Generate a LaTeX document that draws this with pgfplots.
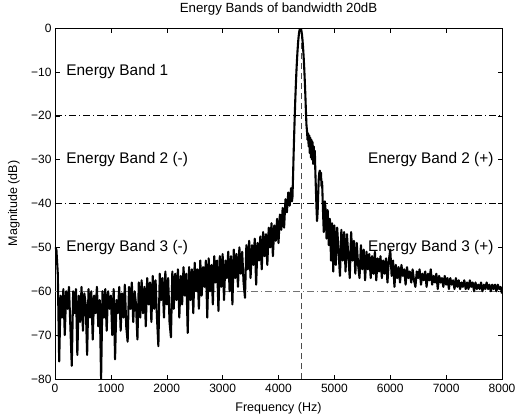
\documentclass[border=0pt]{standalone}
\usepackage{pgfplots}
\pgfplotsset{compat=1.18}
\usepackage{fontspec}
\setmainfont{Liberation Sans}
\begin{document}
\begin{tikzpicture}
\begin{axis}[
  at={(0,0)}, anchor=south west,
  scale only axis, width=447pt, height=351pt,
  xmin=0, xmax=8000, ymin=-80, ymax=0,
  xtick={0,1000,2000,3000,4000,5000,6000,7000,8000},
  xticklabels={0,1000,2000,3000,4000,5000,6000,7000,8000},
  ytick={-80,-70,-60,-50,-40,-30,-20,-10,0},
  yticklabels={−80,−70,−60,−50,−40,−30,−20,−10,0},
  tick align=inside, major tick length=4.5pt,
  tick style={black, line width=0.5pt},
  axis line style={black, line width=0.6pt},
  ticklabel style={font=\fontsize{12}{13}\selectfont},
  xticklabel style={yshift=-2pt},
  title={Energy Bands of bandwidth 20dB},
  title style={font=\fontsize{13.3}{15}\selectfont, at={(axis description cs:0.5,1.0285)}, anchor=base},
  xlabel={Frequency (Hz)},
  xlabel style={font=\fontsize{12.5}{14}\selectfont, at={(axis description cs:0.5,-0.0826)}, anchor=center},
  ylabel={Magnitude (dB)},
  ylabel style={font=\fontsize{12.5}{14}\selectfont, at={(axis description cs:-0.0917,0.5)}, anchor=center},
  clip=true,
]
% band limits
\addplot[black, line width=0.7pt, dash pattern=on 7pt off 3pt on 1pt off 3pt] coordinates {(0,-20) (8000,-20)};
\addplot[black, line width=0.7pt, dash pattern=on 7pt off 3pt on 1pt off 3pt] coordinates {(0,-40) (8000,-40)};
\addplot[black!55, line width=0.7pt, dash pattern=on 7pt off 3pt on 1pt off 3pt] coordinates {(0,-60) (8000,-60)};
\addplot[black!70, line width=0.6pt, dash pattern=on 6pt off 4pt] coordinates {(4400,-80) (4400,0)};
% spectrum
\addplot[black, line width=2.1pt, line join=round] coordinates {
(0,-50) (25,-50.5) (50,-56) (75,-76) (100,-61) (125,-66) (150,-59.5) (175,-70)
(200,-60) (225,-64) (250,-59) (275,-68) (300,-77) (325,-60) (350,-65) (375,-59.5)
(400,-74.5) (425,-61) (450,-67) (475,-59) (500,-69) (525,-60.5) (550,-63) (575,-74.5)
(600,-59.5) (625,-66) (650,-60) (675,-71) (700,-61) (725,-65) (750,-59) (775,-68)
(800,-62) (825,-80) (850,-60) (875,-66) (900,-59.5) (925,-69) (950,-60) (975,-64)
(1000,-61) (1025,-70) (1050,-59.5) (1075,-75.5) (1100,-62) (1125,-65) (1150,-59) (1175,-69)
(1200,-60.5) (1225,-66) (1250,-58.5) (1275,-68) (1300,-71.5) (1325,-59) (1350,-64) (1375,-58)
(1400,-67) (1425,-60) (1450,-63) (1475,-71) (1500,-58) (1525,-66) (1550,-57.5) (1575,-65)
(1600,-59) (1625,-68) (1650,-57) (1675,-63) (1700,-58) (1725,-67) (1750,-56.5) (1775,-64)
(1800,-57.5) (1825,-66) (1850,-72.5) (1875,-56) (1900,-62) (1925,-57) (1950,-66) (1975,-55.5)
(2000,-63) (2025,-57) (2050,-67) (2075,-70.5) (2100,-55.5) (2125,-64) (2150,-56) (2175,-62)
(2200,-55) (2225,-66) (2250,-56.5) (2275,-63) (2300,-54.5) (2325,-61) (2350,-56) (2375,-69.5)
(2400,-54.5) (2425,-62) (2450,-55) (2475,-65) (2500,-53.5) (2525,-60) (2550,-55) (2575,-64)
(2600,-53) (2625,-61) (2650,-54.5) (2675,-59) (2700,-53) (2725,-66) (2750,-52.5) (2775,-60)
(2800,-54) (2825,-63) (2850,-52) (2875,-58) (2900,-53) (2925,-64.5) (2950,-52) (2975,-59)
(3000,-51.5) (3025,-62) (3050,-53) (3075,-57) (3100,-51) (3125,-60) (3150,-52) (3175,-63)
(3200,-50.5) (3225,-57) (3250,-51.5) (3275,-59) (3300,-50) (3325,-56) (3350,-51) (3375,-58)
(3400,-61.5) (3425,-49.5) (3450,-55) (3475,-48.5) (3500,-57) (3525,-49.5) (3550,-54) (3575,-48)
(3600,-58.5) (3625,-49) (3650,-53) (3675,-47.5) (3700,-55) (3725,-46.5) (3750,-52) (3775,-47)
(3800,-54) (3825,-45.5) (3850,-50) (3875,-44.5) (3900,-52) (3925,-45) (3950,-48.5) (3975,-43.5)
(4000,-49) (4025,-42.5) (4050,-46) (4075,-41) (4100,-45.5) (4125,-39) (4150,-42) (4175,-37.5)
(4200,-40.5) (4225,-36.5) (4240,-39.5) (4250,-38.5) (4260,-34) (4270,-29) (4280,-24.5) (4290,-20.3)
(4300,-16.5) (4310,-13.1) (4320,-10.1) (4330,-7.5) (4340,-5.3) (4350,-3.4) (4360,-2.0) (4370,-0.9)
(4380,-0.3) (4390,0) (4400,-0.1) (4410,-0.6) (4420,-1.5) (4430,-2.8) (4440,-4.5) (4450,-6.6)
(4460,-9.0) (4470,-11.9) (4480,-15.1) (4490,-18.7) (4500,-22) (4510,-23.5) (4520,-25.5) (4530,-24)
(4540,-27) (4550,-24.5) (4560,-28.5) (4570,-25) (4580,-29.5) (4590,-25.5) (4600,-30) (4610,-26)
(4620,-31) (4630,-27) (4640,-30) (4650,-28) (4660,-33) (4670,-37) (4680,-41) (4690,-44)
(4700,-42) (4710,-38) (4720,-34.5) (4730,-33) (4740,-32.5) (4750,-34) (4760,-33) (4770,-36)
(4780,-35) (4790,-39) (4800,-43) (4810,-46.5) (4820,-42) (4830,-39.5) (4840,-41) (4850,-44)
(4860,-48) (4870,-44) (4880,-41.5) (4890,-45) (4900,-49.5) (4910,-45) (4920,-43.5) (4930,-48)
(4940,-53) (4950,-46) (4960,-44.5) (4970,-50) (4980,-55.5) (4990,-47) (5000,-45)
(5025,-54) (5050,-45.5) (5075,-51) (5100,-56.5) (5125,-46) (5150,-53) (5175,-46.5)
(5200,-55.5) (5225,-47) (5250,-52) (5275,-57) (5300,-46.5) (5325,-53) (5350,-48.5) (5375,-56)
(5400,-49) (5425,-54) (5450,-57) (5475,-49.5) (5500,-55) (5525,-50.5) (5550,-57.5) (5575,-51)
(5600,-55) (5625,-51.5) (5650,-57) (5675,-52) (5700,-56) (5725,-51) (5750,-57.5) (5775,-52.5)
(5800,-55.5) (5825,-52) (5850,-57) (5875,-53) (5900,-56) (5925,-52.5) (5950,-58) (5975,-53)
(6000,-50.5) (6025,-56.5) (6050,-53) (6075,-59) (6100,-54) (6125,-57) (6150,-54.5) (6175,-58)
(6200,-54) (6225,-56.5) (6250,-55) (6275,-58.5) (6300,-54.5) (6325,-57) (6350,-55.5) (6375,-58)
(6400,-55) (6425,-57.5) (6450,-59) (6475,-55.5) (6500,-57) (6525,-55) (6550,-58.5) (6575,-56)
(6600,-57.5) (6625,-55.5) (6650,-59) (6675,-56) (6700,-57.5) (6725,-55) (6750,-58.5) (6775,-56.5)
(6800,-58) (6825,-56) (6850,-59.5) (6875,-56.5) (6900,-58) (6925,-57) (6950,-59) (6975,-56.5)
(7000,-58.5) (7025,-57) (7050,-59.5) (7075,-57) (7100,-58.5) (7125,-57.5) (7150,-59.5) (7175,-57)
(7200,-59) (7225,-57.5) (7250,-59.5) (7275,-58) (7300,-59) (7325,-57.5) (7350,-59.5) (7375,-58)
(7400,-59.5) (7425,-57.5) (7450,-59) (7475,-58) (7500,-60) (7525,-58) (7550,-59.5) (7575,-58.5)
(7600,-59.5) (7625,-58) (7650,-60) (7675,-58.5) (7700,-59.5) (7725,-58) (7750,-59.5) (7775,-58.5)
(7800,-60) (7825,-58.5) (7850,-59.5) (7875,-58.5) (7900,-60) (7925,-58.5) (7950,-59.5) (7975,-59)
(8000,-60.5)
};
% band labels
\node[anchor=west, inner sep=0pt, font=\fontsize{15.4}{17}\selectfont] at (axis cs:200,-10) {Energy Band 1};
\node[anchor=west, inner sep=0pt, font=\fontsize{15.4}{17}\selectfont] at (axis cs:200,-30) {Energy Band 2 (-)};
\node[anchor=west, inner sep=0pt, font=\fontsize{15.4}{17}\selectfont] at (axis cs:200,-50) {Energy Band 3 (-)};
\node[anchor=west, inner sep=0pt, font=\fontsize{15.4}{17}\selectfont] at (axis cs:5600,-30) {Energy Band 2 (+)};
\node[anchor=west, inner sep=0pt, font=\fontsize{15.4}{17}\selectfont] at (axis cs:5600,-50) {Energy Band 3 (+)};
\end{axis}
\pgfresetboundingbox
\path[use as bounding box] (-55pt,-37pt) rectangle (461pt,379pt);
\end{tikzpicture}
\end{document}
